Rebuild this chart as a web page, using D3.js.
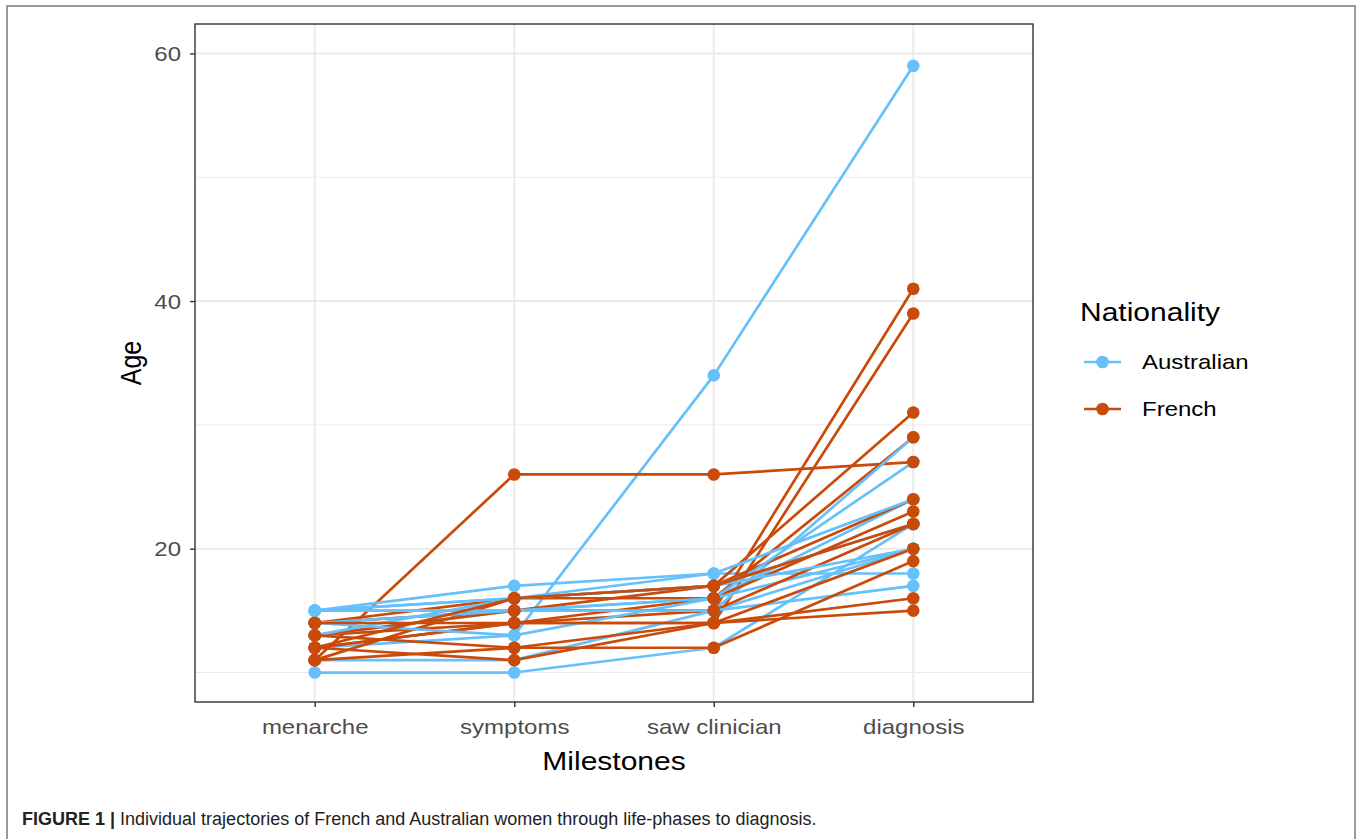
<!DOCTYPE html>
<html>
<head>
<meta charset="utf-8">
<script src="https://cdn.jsdelivr.net/npm/d3@7"></script>
<style>
  html, body { margin: 0; padding: 0; background: #fff; }
  svg { display: block; font-family: "Liberation Sans", Arial, Helvetica, sans-serif; }
</style>
</head>
<body>
<svg id="chart" width="1357" height="839"></svg>
<script>
// ---- data ----
const milestones = ["menarche", "symptoms", "saw clinician", "diagnosis"];
const nationalities = ["Australian", "French"];
const yTicks = [20, 40, 60];
const yMinor = [10, 30, 50];

// one array per woman: ages at [menarche, symptoms, saw clinician, diagnosis]
const australianAges = [
  [12, 13, 34, 59],
  [15, 17, 18, 18],
  [10, 10, 12, 22],
  [11, 11, 15, 20],
  [15, 15, 16, 24],
  [13, 15, 15, 29],
  [15, 16, 17, 22],
  [14, 13, 16, 20],
  [15, 15, 15, 17],
  [13, 16, 17, 20],
  [15, 16, 18, 24],
  [14, 15, 16, 27]
];
const frenchAges = [
  [11, 26, 26, 27],
  [13, 14, 15, 41],
  [12, 14, 14, 39],
  [14, 16, 17, 31],
  [11, 16, 16, 29],
  [13, 15, 17, 24],
  [12, 14, 16, 23],
  [14, 15, 15, 22],
  [11, 12, 12, 19],
  [12, 11, 14, 20],
  [13, 12, 14, 16],
  [14, 14, 14, 15],
  [12, 16, 17, 22]
];

const colors = { Australian: "#66C0FA", French: "#C94A09" };

// ---- build records ----
const people = [];
const n = Math.max(australianAges.length, frenchAges.length);
for (let i = 0; i < n; i++) {
  if (i < australianAges.length) people.push({ nat: "Australian", ages: australianAges[i] });
  if (i < frenchAges.length) people.push({ nat: "French", ages: frenchAges[i] });
}

const svg = d3.select("#chart");
const panel = { x0: 195, x1: 1033, y0: 24, y1: 702 };
const SX = 1.2; // horizontal stretch of the text in the reference

// outer frame
svg.append("rect").attr("x", 7).attr("y", 6).attr("width", 1348).attr("height", 850)
  .attr("fill", "none").attr("stroke", "#7a7a7a").attr("stroke-width", 1.5);

const x = d3.scalePoint().domain(milestones).range([panel.x0, panel.x1]).padding(0.6);
const y = d3.scaleLinear().domain([7.62, 62.38]).range([panel.y1, panel.y0]);

const g = svg.append("g");

// panel background + grid
g.append("rect").attr("x", panel.x0).attr("y", panel.y0)
  .attr("width", panel.x1 - panel.x0).attr("height", panel.y1 - panel.y0).attr("fill", "#fff");
g.selectAll("line.minor").data(yMinor).join("line").attr("class", "minor")
  .attr("x1", panel.x0).attr("x2", panel.x1).attr("y1", d => y(d)).attr("y2", d => y(d))
  .attr("stroke", "#ebebeb").attr("stroke-width", 1);
g.selectAll("line.majy").data(yTicks).join("line").attr("class", "majy")
  .attr("x1", panel.x0).attr("x2", panel.x1).attr("y1", d => y(d)).attr("y2", d => y(d))
  .attr("stroke", "#ebebeb").attr("stroke-width", 2);
g.selectAll("line.majx").data(milestones).join("line").attr("class", "majx")
  .attr("x1", d => x(d)).attr("x2", d => x(d)).attr("y1", panel.y0).attr("y2", panel.y1)
  .attr("stroke", "#ebebeb").attr("stroke-width", 2);

// lines
const line = d3.line().x((d, i) => x(milestones[i])).y(d => y(d));
g.selectAll("path.traj").data(people).join("path").attr("class", "traj")
  .attr("d", d => line(d.ages)).attr("fill", "none")
  .attr("stroke", d => colors[d.nat]).attr("stroke-width", 2.7)
  .attr("stroke-linejoin", "round");

// points
const pts = [];
nationalities.forEach(nat => people.filter(p => p.nat === nat).forEach(p =>
  p.ages.forEach((a, i) => pts.push({ nat, m: milestones[i], a }))));
g.selectAll("circle.pt").data(pts).join("circle").attr("class", "pt")
  .attr("cx", d => x(d.m)).attr("cy", d => y(d.a)).attr("r", 6.3)
  .attr("fill", d => colors[d.nat]);

// panel border
g.append("rect").attr("x", panel.x0).attr("y", panel.y0)
  .attr("width", panel.x1 - panel.x0).attr("height", panel.y1 - panel.y0)
  .attr("fill", "none").attr("stroke", "#333").attr("stroke-width", 1.4);

// axes
const yAxis = d3.axisLeft(y).tickValues(yTicks).tickSize(5).tickPadding(5).tickSizeOuter(0);
const ya = svg.append("g").attr("transform", `translate(${panel.x0},0)`).call(yAxis);
ya.select(".domain").remove();
ya.selectAll(".tick line").attr("stroke", "#333").attr("stroke-width", 1.4);
ya.selectAll(".tick text").attr("fill", "#4d4d4d").attr("font-size", 20)
  .attr("font-family", "Liberation Sans, Arial, sans-serif")
  .attr("dy", "0.36em")
  .attr("x", -14 / SX).attr("transform", `scale(${SX},1)`);

const xAxis = d3.axisBottom(x).tickSize(5).tickPadding(6).tickSizeOuter(0);
const xa = svg.append("g").attr("transform", `translate(0,${panel.y1})`).call(xAxis);
xa.select(".domain").remove();
xa.selectAll(".tick line").attr("stroke", "#333").attr("stroke-width", 1.4);
xa.selectAll(".tick text").attr("fill", "#4d4d4d").attr("font-size", 20)
  .attr("font-family", "Liberation Sans, Arial, sans-serif")
  .attr("y", 32).attr("dy", 0)
  .attr("transform", `scale(${SX},1)`);

// axis titles
svg.append("text").attr("transform", `translate(${(panel.x0 + panel.x1) / 2},770) scale(${SX},1)`)
  .attr("text-anchor", "middle").attr("font-size", 25).attr("fill", "#000").text("Milestones");
svg.append("text").attr("transform", `translate(141,363) rotate(-90) scale(1,${SX})`)
  .attr("text-anchor", "middle").attr("font-size", 25).attr("fill", "#000").text("Age");

// legend
const lg = svg.append("g");
lg.append("text").attr("transform", `translate(1080,321) scale(${SX},1)`)
  .attr("font-size", 25).attr("fill", "#000").text("Nationality");
const keyY = { Australian: 362, French: 409 };
nationalities.forEach(nat => {
  lg.append("line").attr("x1", 1084).attr("x2", 1121).attr("y1", keyY[nat]).attr("y2", keyY[nat])
    .attr("stroke", colors[nat]).attr("stroke-width", 2.7);
  lg.append("circle").attr("cx", 1102.5).attr("cy", keyY[nat]).attr("r", 6.3).attr("fill", colors[nat]);
  lg.append("text").attr("transform", `translate(1142,${keyY[nat] + 7}) scale(${SX},1)`)
    .attr("font-size", 20).attr("fill", "#000").text(nat);
});

// caption
const cap = svg.append("text").attr("x", 22).attr("y", 825).attr("font-size", 18)
  .attr("font-family", "'Liberation Sans Narrow', 'Liberation Sans', Arial, sans-serif")
  .attr("fill", "#222");
cap.append("tspan").attr("font-weight", "bold").text("FIGURE 1 | ");
cap.append("tspan").text("Individual trajectories of French and Australian women through life-phases to diagnosis.");
</script>
</body>
</html>
